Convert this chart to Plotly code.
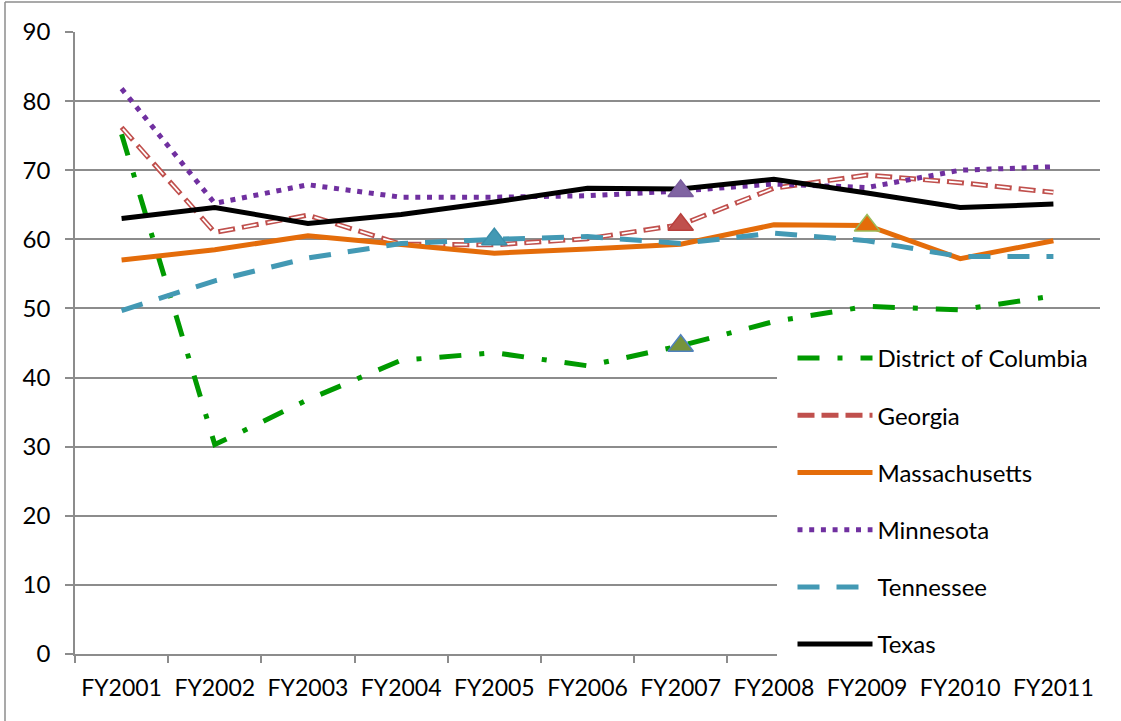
import plotly.graph_objects as go

# Fiscal years on the category axis
years = ["FY2001", "FY2002", "FY2003", "FY2004", "FY2005", "FY2006",
         "FY2007", "FY2008", "FY2009", "FY2010", "FY2011"]

# Series values by state
district_of_columbia = [75.2, 30.3, 36.8, 42.5, 43.6, 41.7, 44.6, 48.1, 50.3, 49.8, 51.8]
georgia = [76.2, 61.0, 63.5, 59.3, 59.2, 60.1, 62.1, 67.4, 69.3, 68.2, 66.8]
massachusetts = [57.0, 58.5, 60.5, 59.2, 58.0, 58.6, 59.3, 62.1, 62.0, 57.2, 59.8]
minnesota = [81.8, 65.2, 67.9, 66.1, 66.1, 66.3, 67.0, 68.0, 67.5, 70.0, 70.5]
tennessee = [49.7, 54.0, 57.3, 59.4, 60.0, 60.4, 59.4, 60.9, 59.8, 57.5, 57.5]
texas = [63.0, 64.6, 62.3, 63.6, 65.4, 67.4, 67.3, 68.7, 66.7, 64.6, 65.1]

y_ticks = [0, 10, 20, 30, 40, 50, 60, 70, 80, 90]

FONT = "Lato"
GRID = "#8C8C8C"
W, H = 1121, 721
ML, MR, MT, MB = 75, 21, 32, 67
PW, PH = W - ML - MR, H - MT - MB


def px_x(v):
    return (v - ML) / PW


def px_y(v):
    return (H - MB - v) / PH


fig = go.Figure()

series = [
    ("District of Columbia", district_of_columbia, "#009A00", "22px,18px,5px,18px"),
    ("Georgia", georgia, "#C0504D", "17px,7px"),
    ("Massachusetts", massachusetts, "#E46C0A", "solid"),
    ("Minnesota", minnesota, "#7030A0", "5px,6.7px"),
    ("Tennessee", tennessee, "#4399B4", "22px,17px"),
    ("Texas", texas, "#000000", "solid"),
]

for name, vals, color, dash in series:
    fig.add_trace(go.Scatter(
        x=years, y=vals, name=name, mode="lines", legendgroup=name,
        line=dict(color=color, width=5, dash=dash),
    ))
    if name == "Georgia":
        # hollow centre of the double-line dashes
        fig.add_trace(go.Scatter(
            x=years, y=vals, mode="lines", legendgroup=name, showlegend=False,
            hoverinfo="skip",
            line=dict(color="white", width=1.8, dash="0px,2px,13px,9px"),
        ))

# Highlighted points drawn as triangles
highlights = [
    (district_of_columbia, 6, "#77933C", "#4F81BD", "District of Columbia"),
    (georgia, 6, "#C0504D", "#B9403D", "Georgia"),
    (minnesota, 6, "#8064A2", "#7A5C9E", "Minnesota"),
    (tennessee, 4, "#4399B4", "#3C8FAA", "Tennessee"),
    (massachusetts, 8, "#E46C0A", "#9BBB59", "Massachusetts"),
]
for vals, i, fill, edge, grp in highlights:
    fig.add_trace(go.Scatter(
        x=[years[i]], y=[vals[i]], mode="markers", showlegend=False,
        legendgroup=grp,
        marker=dict(symbol="triangle-up", size=22, color=fill,
                    line=dict(color=edge, width=1.5)),
    ))

# Outer frame of the chart
fig.add_shape(type="line", xref="paper", yref="paper",
              x0=px_x(5), x1=px_x(5), y0=px_y(2), y1=px_y(H + 5),
              line=dict(color=GRID, width=1.5))
fig.add_shape(type="line", xref="paper", yref="paper",
              x0=px_x(5), x1=px_x(W + 5), y0=px_y(2), y1=px_y(2),
              line=dict(color=GRID, width=1.5))

# White panel behind the legend, hiding grid and axis lines there
fig.add_shape(type="rect", xref="paper", yref="paper", layer="above",
              x0=px_x(777), x1=px_x(1104), y0=px_y(668), y1=px_y(337),
              fillcolor="white", line=dict(width=0))

fig.update_layout(
    width=W, height=H,
    margin=dict(l=ML, r=MR, t=MT, b=MB, autoexpand=False),
    paper_bgcolor="white", plot_bgcolor="white",
    font=dict(family=FONT, size=24, color="#000000"),
    showlegend=True,
    legend=dict(
        x=px_x(792.5), y=px_y(336), xanchor="left", yanchor="top",
        bgcolor="rgba(0,0,0,0)", borderwidth=0,
        font=dict(family=FONT, size=24, color="#000000"),
        itemwidth=75, tracegroupgap=23, traceorder="grouped",
        itemclick=False, itemdoubleclick=False,
    ),
    xaxis=dict(
        type="category", range=[-0.5, 10.5], tickson="boundaries",
        showline=True, linecolor=GRID, linewidth=1.5,
        ticks="outside", ticklen=7, tickcolor=GRID, tickwidth=1.5,
        showgrid=False, zeroline=False, tickangle=0,
        tickfont=dict(family=FONT, size=23), ticklabelstandoff=13,
    ),
    yaxis=dict(
        range=[0, 90], tickvals=y_ticks,
        showline=True, linecolor=GRID, linewidth=1.5,
        ticks="outside", ticklen=8, tickcolor=GRID, tickwidth=1.5,
        showgrid=True, gridcolor=GRID, gridwidth=1.5, zeroline=False,
        tickfont=dict(family=FONT, size=24), ticklabelstandoff=10,
    ),
)

fig.write_html("out.html")
